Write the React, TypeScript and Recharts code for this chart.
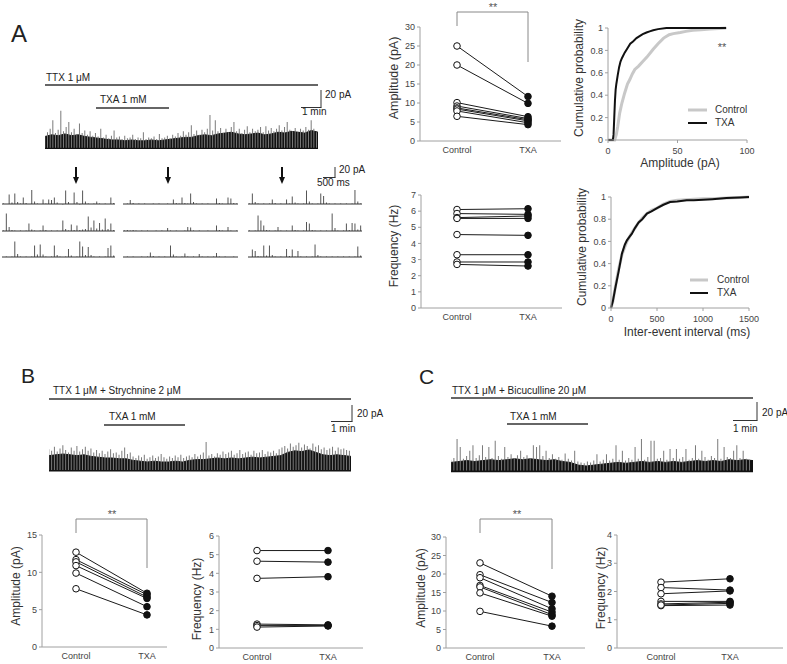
import React from 'react';
import { LineChart, Line, XAxis, YAxis, ComposedChart, Bar, Area, ReferenceLine } from 'recharts';

// ---------- categories ----------
const CATS = ['Control', 'TXA'];

// ---------- paired plots (one value per cell) ----------
const ampA_control = [25, 20, 10.1, 9.2, 8.7, 8.4, 7.9, 6.5];
const ampA_txa = [11.7, 9.9, 6.4, 5.9, 5.6, 5.3, 4.8, 4.3];
const freqA_control = [6.1, 5.85, 5.6, 5.55, 4.55, 3.3, 2.85, 2.7];
const freqA_txa = [6.15, 5.8, 5.7, 5.55, 4.5, 3.3, 2.85, 2.6];

const ampB_control = [12.7, 11.7, 11.4, 10.9, 9.9, 7.8];
const ampB_txa = [7.2, 7.0, 6.7, 6.5, 5.4, 4.3];
const freqB_control = [5.22, 4.65, 3.73, 1.28, 1.2, 1.12];
const freqB_txa = [5.22, 4.6, 3.82, 1.24, 1.2, 1.18];

const ampC_control = [23, 19.8, 19, 16.9, 16.5, 14.9, 9.9];
const ampC_txa = [14, 12.3, 10.6, 9.7, 9.0, 8.6, 5.9];
const freqC_control = [2.33, 2.14, 1.92, 1.65, 1.56, 1.5, 1.52];
const freqC_txa = [2.45, 2.05, 2.02, 1.65, 1.62, 1.52, 1.58];

const TICKS_30 = [0, 5, 10, 15, 20, 25, 30];
const TICKS_7 = [0, 1, 2, 3, 4, 5, 6, 7];
const TICKS_15 = [0, 5, 10, 15];
const TICKS_6 = [0, 1, 2, 3, 4, 5, 6];
const TICKS_4 = [0, 1, 2, 3, 4];

// ---------- cumulative distributions [x, probability] ----------
const ampCumControl = [[0, 0], [4.8, 0], [6, 0.05], [7, 0.12], [8.4, 0.24], [10, 0.33], [12, 0.42], [14, 0.5], [15.7, 0.54], [17.5, 0.59], [19.3, 0.63], [22, 0.66], [25, 0.7], [28, 0.74], [32.5, 0.81], [36, 0.86], [40, 0.91], [44, 0.94], [47, 0.95], [52, 0.96], [56, 0.97], [61, 0.98], [67, 0.985], [73.5, 0.99], [80, 0.995], [85, 1]];
const ampCumTxa = [[0, 0], [3.5, 0], [4, 0.05], [4.5, 0.2], [5, 0.35], [5.5, 0.45], [6, 0.5], [7, 0.58], [8, 0.65], [9, 0.7], [10, 0.73], [12, 0.78], [14, 0.82], [16, 0.86], [18, 0.88], [20.5, 0.91], [23, 0.93], [25, 0.945], [27.7, 0.96], [30, 0.97], [32.5, 0.98], [36, 0.99], [42, 1], [85, 1]];
const ieiCumControl = [[0, 0], [20, 0.06], [47, 0.19], [83, 0.35], [119, 0.48], [150, 0.55], [173, 0.6], [200, 0.64], [227, 0.68], [260, 0.72], [300, 0.77], [340, 0.81], [390, 0.85], [440, 0.88], [500, 0.9], [570, 0.935], [642, 0.96], [720, 0.97], [822, 0.975], [900, 0.98], [1002, 0.985], [1100, 0.985], [1255, 0.99], [1400, 0.995], [1500, 1]];
const ieiCumTxa = [[0, 0], [20, 0.06], [47, 0.18], [83, 0.33], [119, 0.49], [150, 0.57], [173, 0.61], [200, 0.64], [227, 0.67], [260, 0.72], [300, 0.77], [340, 0.8], [390, 0.85], [440, 0.87], [500, 0.9], [570, 0.93], [642, 0.955], [720, 0.96], [822, 0.97], [900, 0.97], [1002, 0.975], [1100, 0.98], [1255, 0.99], [1400, 0.995], [1500, 1]];
const CUM_Y_TICKS = [0, 0.2, 0.4, 0.6, 0.8, 1];
const AMP_X_TICKS = [0, 50, 100];
const IEI_X_TICKS = [0, 500, 1000, 1500];

// ---------- long recordings (pA); spikes every 8 s, noise band every 20 s ----------
const spikesA = [14, 18, 22, 32, 17, 21, 43, 19, 24, 30, 18, 22, 16, 28, 17, 20, 15, 19, 14, 17, 13, 22, 12, 15, 11, 14, 20, 12, 13, 10, 14, 11, 12, 15, 10, 12, 11, 18, 10, 12, 11, 13, 10, 16, 11, 12, 14, 11, 15, 13, 17, 14, 19, 15, 18, 26, 16, 20, 15, 21, 18, 22, 38, 20, 32, 19, 23, 17, 22, 18, 24, 30, 19, 22, 17, 21, 25, 18, 22, 19, 21, 24, 18, 25, 20, 23, 19, 22, 26, 20, 24, 30, 21, 19, 23, 18, 22, 20, 24, 21, 32, 22, 18];
const bandA = [13, 15, 14, 16, 14, 15, 13, 12, 11, 10, 9, 9, 8, 9, 8, 8, 9, 8, 9, 10, 11, 12, 12, 14, 15, 14, 16, 17, 18, 16, 15, 16, 17, 15, 16, 18, 17, 19, 18, 17, 20, 18];

const spikesB = [26, 24, 29, 23, 27, 31, 25, 22, 28, 24, 30, 23, 26, 29, 24, 27, 22, 25, 21, 24, 20, 23, 26, 21, 22, 19, 24, 28, 20, 22, 17, 15, 18, 16, 19, 14, 16, 18, 15, 17, 20, 16, 14, 17, 15, 18, 16, 19, 15, 17, 18, 16, 20, 17, 19, 22, 35, 18, 20, 17, 21, 19, 23, 20, 22, 24, 19, 21, 25, 20, 22, 23, 19, 24, 21, 22, 25, 20, 23, 22, 24, 21, 26, 28, 30, 27, 33, 29, 31, 34, 28, 32, 30, 27, 33, 29, 31, 26, 28, 25, 27, 29, 24, 28, 26, 27, 25, 24];
const bandB = [18, 19, 20, 19, 18, 19, 17, 16, 15, 15, 14, 14, 12, 11, 10, 11, 10, 10, 11, 10, 12, 13, 13, 14, 15, 14, 15, 14, 15, 16, 15, 16, 17, 18, 22, 24, 23, 25, 22, 19, 18, 19, 18, 17];

const spikesC = [12, 14, 35, 26, 13, 16, 22, 28, 14, 17, 28, 15, 26, 14, 33, 16, 13, 26, 15, 18, 14, 17, 22, 15, 17, 14, 28, 26, 28, 16, 22, 14, 18, 13, 15, 12, 19, 13, 11, 22, 10, 9, 8, 10, 9, 11, 18, 10, 12, 18, 11, 13, 28, 12, 22, 11, 14, 12, 26, 13, 35, 12, 15, 33, 33, 13, 14, 22, 12, 24, 14, 24, 13, 15, 24, 12, 14, 28, 13, 22, 15, 12, 16, 14, 35, 13, 26, 15, 14, 22, 28, 14, 22, 13, 12];
const bandC = [9, 10, 11, 10, 11, 12, 11, 12, 13, 12, 13, 12, 11, 12, 10, 9, 6, 5, 6, 7, 8, 9, 8, 9, 10, 9, 10, 9, 10, 9, 10, 11, 10, 11, 10, 12, 11, 12, 11];

// ---------- short sweeps (pA), 40 samples each ----------
const sweepR1C1 = [1, 0, 19, 3, 21, 4, 1, 13, 2, 0, 28, 5, 1, 0, 9, 1, 9, 8, 13, 3, 0, -1, 27, 4, 0, 23, 4, -1, 27, 5, 1, 0, 1, 5, 1, 0, 1, 0, 13, 2];
const sweepR2C1 = [1, 35, 8, 2, 1, 0, 1, 0, 1, 15, 3, 1, 0, 1, 11, 2, 0, 1, 0, 1, 0, 21, 4, 1, 13, 2, 11, 2, 3, 4, 29, 7, 21, 5, 16, 3, 25, 4, 15, 2];
const sweepR3C1 = [0, 1, 0, 1, 31, 6, 1, 0, 1, 0, 1, 23, 5, 25, 5, 1, 0, 1, 23, 4, 1, 0, 1, 16, 3, 0, 1, 31, 21, 4, 20, 4, 1, 0, 1, 0, 1, 18, 23, 3];
const sweepR1C2 = [0, 1, 8, 2, 0, 1, 0, 1, 0, 0, 1, 0, 1, 0, 0, 1, 0, 9, 2, 1, 13, 2, 1, 21, 4, 1, 0, 1, 0, 1, 0, 0, 11, 2, 1, 0, 13, 11, 2, 1];
const sweepR2C2 = [1, 2, 1, 2, 1, 0, 1, 0, 1, 0, 0, 1, 0, 1, 0, 6, 1, 0, 1, 0, 0, 1, 8, 7, 1, 0, 1, 0, 0, 1, 0, 0, 11, 2, 1, 0, 8, 1, 0, 1];
const sweepR3C2 = [0, 1, 0, 1, 0, 0, 1, 0, 1, 9, 2, 0, 1, 0, 1, 0, 23, 5, 1, 0, 1, 7, 1, 0, 1, 0, 6, 1, 0, 1, 0, 1, 8, 1, 0, 1, 0, 0, 1, 0];
const sweepR1C3 = [1, 21, 4, 1, 0, 1, 0, 1, 9, 2, 0, 1, 0, 9, 1, 15, 3, 1, 0, 1, 27, 5, 1, 0, 1, 21, 16, 3, 1, 0, 1, 0, 1, 0, 1, 0, 1, 28, 5, 1];
const sweepR2C3 = [1, 0, 1, 31, 21, 11, 2, 1, 0, 1, 8, 1, 0, 1, 0, 11, 2, 1, 0, 1, 18, 15, 2, 1, 0, 1, 0, 1, 0, 35, 6, 1, 0, 1, 15, 2, 16, 15, 3, 11];
const sweepR3C3 = [0, 15, 12, 2, 1, 23, 3, 23, 4, 1, 0, 1, 0, 16, 2, 15, 1, 12, 1, 0, 1, 0, 1, 25, 4, 1, 0, 1, 0, 1, 0, 1, 0, 1, 0, 1, 0, 1, 21, 3];

// ---------- styling ----------
const FONT = '"Liberation Sans", Arial, Helvetica, sans-serif';
const AXIS = '#a0a0a0';
const TICK = '#444';
const TXT = '#222';
const YW = 40, MT = 8;

type Geo = { ax: number; top: number; right: number; bottom: number };

function pairRows(control: number[], txa: number[]) {
  return CATS.map((cat, k) => {
    const row: any = { cat };
    (k === 0 ? control : txa).forEach((v, i) => { row['s' + i] = v; });
    return row;
  });
}

const renderDot = (p: any) => (
  <circle key={`${p.dataKey}-${p.index}`} cx={p.cx} cy={p.cy} r={3.3}
    fill={p.index === 0 ? '#fff' : '#111'} stroke="#111" strokeWidth={1} />
);

function PairPlot({ geo, control, txa, yMax, yTicks, padL, padR }: { geo: Geo; control: number[]; txa: number[]; yMax: number; yTicks: number[]; padL: number; padR: number }) {
  const data = pairRows(control, txa);
  const MR = 4, XH = 16;
  const w = YW + geo.right - geo.ax + MR;
  const h = MT + geo.bottom - geo.top + XH;
  return (
    <div style={{ position: 'absolute', left: geo.ax - YW, top: geo.top - MT }}>
      <LineChart width={w} height={h} data={data} margin={{ top: MT, right: MR, bottom: 0, left: 0 }}>
        <XAxis dataKey="cat" type="category" padding={{ left: padL, right: padR }} height={XH}
          axisLine={{ stroke: AXIS }} tickLine={false} tickSize={0} tickMargin={6} interval={0}
          tick={{ fontSize: 9, fill: TICK }} />
        <YAxis type="number" domain={[0, yMax]} ticks={yTicks} width={YW} interval={0}
          axisLine={{ stroke: AXIS }} tickLine={{ stroke: AXIS }} tickSize={3} tickMargin={2}
          tick={{ fontSize: 9, fill: TICK }} />
        {control.map((_, i) => (
          <Line key={i} dataKey={'s' + i} stroke="#1a1a1a" strokeWidth={1} isAnimationActive={false}
            dot={renderDot} activeDot={false} />
        ))}
      </LineChart>
    </div>
  );
}

function CumPlot({ geo, control, txa, xMax, xTicks }: { geo: Geo; control: number[][]; txa: number[][]; xMax: number; xTicks: number[] }) {
  const MR = 16, XH = 22;
  const w = YW + geo.right - geo.ax + MR;
  const h = MT + geo.bottom - geo.top + XH;
  const cData = control.map(([x, p]) => ({ x, p }));
  const tData = txa.map(([x, p]) => ({ x, p }));
  return (
    <div style={{ position: 'absolute', left: geo.ax - YW, top: geo.top - MT }}>
      <LineChart width={w} height={h} margin={{ top: MT, right: MR, bottom: 0, left: 0 }}>
        <XAxis type="number" dataKey="x" domain={[0, xMax]} ticks={xTicks} height={XH} interval={0}
          axisLine={{ stroke: AXIS }} tickLine={{ stroke: AXIS }} tickSize={3} tickMargin={5}
          tick={{ fontSize: 9, fill: TICK }} />
        <YAxis type="number" domain={[0, 1]} ticks={CUM_Y_TICKS} width={YW} interval={0}
          axisLine={{ stroke: AXIS }} tickLine={{ stroke: AXIS }} tickSize={3} tickMargin={2}
          tick={{ fontSize: 9, fill: TICK }} />
        <Line data={cData} dataKey="p" stroke="#c8c8c8" strokeWidth={3} dot={false} activeDot={false} isAnimationActive={false} />
        <Line data={tData} dataKey="p" stroke="#111" strokeWidth={2} dot={false} activeDot={false} isAnimationActive={false} />
      </LineChart>
    </div>
  );
}

function LongTrace({ left, top, width, height, tMax, spikes, band, baseValue }: { left: number; top: number; width: number; height: number; tMax: number; spikes: number[]; band: number[]; baseValue: number }) {
  const map = new Map<number, any>();
  spikes.forEach((v, i) => { const t = i * 8; map.set(t, { ...(map.get(t) || {}), t, spike: v }); });
  band.forEach((v, i) => { const t = i * 20; map.set(t, { ...(map.get(t) || {}), t, band: v }); });
  const rows = [...map.values()].sort((a, b) => a.t - b.t);
  return (
    <div style={{ position: 'absolute', left, top }}>
      <ComposedChart width={width} height={height} data={rows} margin={{ top: 0, right: 0, bottom: 0, left: 0 }}>
        <XAxis type="number" dataKey="t" domain={[0, tMax]} hide allowDataOverflow />
        <YAxis type="number" domain={[-5, 45]} hide allowDataOverflow />
        <Bar dataKey="spike" barSize={1} fill="#7a7a7a" isAnimationActive={false} />
        <Area dataKey="band" type="linear" baseValue={baseValue} connectNulls fill="#111" fillOpacity={1}
          stroke="#111" strokeWidth={1} dot={false} activeDot={false} isAnimationActive={false} />
      </ComposedChart>
    </div>
  );
}

function Sweep({ left, baseline, width, values }: { left: number; baseline: number; width: number; values: number[] }) {
  const data = values.map((v, i) => ({ i, v }));
  return (
    <div style={{ position: 'absolute', left, top: baseline - 20 }}>
      <ComposedChart width={width} height={23} data={data} margin={{ top: 0, right: 0, bottom: 0, left: 0 }}>
        <XAxis type="number" dataKey="i" domain={[-0.5, values.length - 0.5]} hide />
        <YAxis type="number" domain={[-6, 40]} hide allowDataOverflow />
        <ReferenceLine y={0} stroke="#333" strokeWidth={1} />
        <Bar dataKey="v" barSize={1} fill="#555" isAnimationActive={false} />
      </ComposedChart>
    </div>
  );
}

function VText({ x, y, children, size = 12 }: { x: number; y: number; children: React.ReactNode; size?: number }) {
  return (
    <text x={x} y={y} transform={`rotate(-90 ${x} ${y})`} textAnchor="middle" dominantBaseline="middle" fontSize={size} fill="#333">{children}</text>
  );
}

function Arrow({ x }: { x: number }) {
  return (
    <g>
      <rect x={x - 1} y={167} width={2} height={11} fill="#111" />
      <polygon points={`${x - 3},177 ${x + 3},177 ${x},184`} fill="#111" />
    </g>
  );
}

function Overlay() {
  const L = '#333';
  return (
    <svg width={787} height={664} style={{ position: 'absolute', left: 0, top: 0, pointerEvents: 'none' }}>
      {/* panel letters */}
      <text x={11} y={42} fontSize={24} fill={TXT}>A</text>
      <text x={21} y={383} fontSize={21} fill={TXT}>B</text>
      <text x={419} y={384} fontSize={21} fill={TXT}>C</text>

      {/* Panel A drug bars and scale */}
      <text x={46} y={81} fontSize={10} fill={TXT}>TTX 1 μM</text>
      <line x1={45} y1={85} x2={318} y2={85} stroke={L} strokeWidth={1.3} />
      <text x={100} y={103} fontSize={10} fill={TXT}>TXA 1 mM</text>
      <line x1={96} y1={108} x2={169} y2={108} stroke={L} strokeWidth={1.3} />
      <line x1={321} y1={90} x2={321} y2={107.5} stroke={L} strokeWidth={1} />
      <line x1={301} y1={107.5} x2={321.5} y2={107.5} stroke={L} strokeWidth={1} />
      <text x={325} y={98} fontSize={10} fill={TXT}>20 pA</text>
      <text x={302} y={115} fontSize={10} fill={TXT}>1 min</text>

      <Arrow x={76} />
      <Arrow x={168} />
      <Arrow x={282} />
      <line x1={335} y1={167} x2={335} y2={177.5} stroke={L} strokeWidth={1} />
      <line x1={323} y1={177.5} x2={335.5} y2={177.5} stroke={L} strokeWidth={1} />
      <text x={339} y={173} fontSize={10} fill={TXT}>20 pA</text>
      <text x={317} y={186} fontSize={10} fill={TXT}>500 ms</text>

      {/* Panel B */}
      <text x={53} y={394} fontSize={10} fill={TXT}>TTX 1 μM + Strychnine 2 μM</text>
      <line x1={49} y1={399} x2={351} y2={399} stroke={L} strokeWidth={1.3} />
      <text x={109} y={420} fontSize={10} fill={TXT}>TXA 1 mM</text>
      <line x1={104} y1={425} x2={185} y2={425} stroke={L} strokeWidth={1.3} />
      <line x1={352} y1={405} x2={352} y2={421.5} stroke={L} strokeWidth={1} />
      <line x1={331} y1={421.5} x2={352.5} y2={421.5} stroke={L} strokeWidth={1} />
      <text x={357} y={417} fontSize={10} fill={TXT}>20 pA</text>
      <text x={331} y={432} fontSize={10} fill={TXT}>1 min</text>

      {/* Panel C */}
      <text x={452} y={394} fontSize={10} fill={TXT}>TTX 1 μM + Bicuculline 20 μM</text>
      <line x1={451} y1={398} x2={753} y2={398} stroke={L} strokeWidth={1.3} />
      <text x={510} y={420} fontSize={10} fill={TXT}>TXA 1 mM</text>
      <line x1={507} y1={424} x2={588} y2={424} stroke={L} strokeWidth={1.3} />
      <line x1={757} y1={402} x2={757} y2={420.5} stroke={L} strokeWidth={1} />
      <line x1={733} y1={420.5} x2={757.5} y2={420.5} stroke={L} strokeWidth={1} />
      <text x={762} y={416} fontSize={10} fill={TXT}>20 pA</text>
      <text x={733} y={432} fontSize={10} fill={TXT}>1 min</text>

      {/* significance brackets */}
      <polyline points="457,26 457,12 528,12 528,62" fill="none" stroke="#888" strokeWidth={1} />
      <text x={493} y={11} fontSize={11} textAnchor="middle" fill="#555">**</text>
      <polyline points="76,533 76,519 147,519 147,568" fill="none" stroke="#888" strokeWidth={1} />
      <text x={112} y={518} fontSize={11} textAnchor="middle" fill="#555">**</text>
      <polyline points="480,533 480,519 552,519 552,569" fill="none" stroke="#888" strokeWidth={1} />
      <text x={517} y={518} fontSize={11} textAnchor="middle" fill="#555">**</text>
      <text x={722} y={51} fontSize={11} textAnchor="middle" fill="#555">**</text>

      {/* axis titles */}
      <VText x={395} y={78} size={12.5}>Amplitude (pA)</VText>
      <VText x={395} y={246} size={12}>Frequency (Hz)</VText>
      <VText x={580} y={78} size={12}>Cumulative probability</VText>
      <VText x={583} y={247} size={12}>Cumulative probability</VText>
      <text x={680} y={167} fontSize={12} textAnchor="middle" fill="#333">Amplitude (pA)</text>
      <text x={687} y={336} fontSize={12} textAnchor="middle" fill="#333">Inter-event interval (ms)</text>
      <VText x={17} y={586} size={12}>Amplitude (pA)</VText>
      <VText x={198} y={599} size={12}>Frequency (Hz)</VText>
      <VText x={422} y={588} size={12}>Amplitude (pA)</VText>
      <VText x={602} y={588} size={12}>Frequency (Hz)</VText>

      {/* legends */}
      <line x1={688} y1={110} x2={707} y2={110} stroke="#c8c8c8" strokeWidth={3} />
      <text x={715} y={110} fontSize={10} dominantBaseline="middle" fill="#333">Control</text>
      <line x1={688} y1={123} x2={707} y2={123} stroke="#111" strokeWidth={2} />
      <text x={715} y={123} fontSize={10} dominantBaseline="middle" fill="#333">TXA</text>
      <line x1={690} y1={280} x2={708} y2={280} stroke="#c8c8c8" strokeWidth={3} />
      <text x={717} y={280} fontSize={10} dominantBaseline="middle" fill="#333">Control</text>
      <line x1={690} y1={293} x2={708} y2={293} stroke="#111" strokeWidth={2} />
      <text x={717} y={293} fontSize={10} dominantBaseline="middle" fill="#333">TXA</text>
    </svg>
  );
}

export default function App() {
  return (
    <div style={{ position: 'absolute', left: 0, top: 0, width: 787, height: 664, overflow: 'hidden', background: '#fff', fontFamily: FONT }}>
      {/* long recordings */}
      <LongTrace left={45} top={109} width={273} height={43} tMax={820} spikes={spikesA} band={bandA} baseValue={-1.5} />
      <LongTrace left={49} top={434} width={302} height={40} tMax={860} spikes={spikesB} band={bandB} baseValue={-2} />
      <LongTrace left={451} top={430} width={302} height={45} tMax={760} spikes={spikesC} band={bandC} baseValue={-2} />

      {/* short sweeps */}
      <Sweep left={2} baseline={204} width={113} values={sweepR1C1} />
      <Sweep left={2} baseline={231} width={113} values={sweepR2C1} />
      <Sweep left={2} baseline={257} width={113} values={sweepR3C1} />
      <Sweep left={123} baseline={204} width={115} values={sweepR1C2} />
      <Sweep left={123} baseline={231} width={115} values={sweepR2C2} />
      <Sweep left={123} baseline={257} width={115} values={sweepR3C2} />
      <Sweep left={248} baseline={204} width={114} values={sweepR1C3} />
      <Sweep left={248} baseline={231} width={114} values={sweepR2C3} />
      <Sweep left={248} baseline={257} width={114} values={sweepR3C3} />

      {/* paired plots */}
      <PairPlot geo={{ ax: 420, top: 27, right: 561, bottom: 141 }} control={ampA_control} txa={ampA_txa} yMax={30} yTicks={TICKS_30} padL={37} padR={33} />
      <PairPlot geo={{ ax: 421, top: 195, right: 562, bottom: 308 }} control={freqA_control} txa={freqA_txa} yMax={7} yTicks={TICKS_7} padL={36} padR={34} />
      <PairPlot geo={{ ax: 42, top: 535, right: 167, bottom: 647 }} control={ampB_control} txa={ampB_txa} yMax={15} yTicks={TICKS_15} padL={34} padR={20} />
      <PairPlot geo={{ ax: 219, top: 536, right: 363, bottom: 648 }} control={freqB_control} txa={freqB_txa} yMax={6} yTicks={TICKS_6} padL={38} padR={35} />
      <PairPlot geo={{ ax: 446, top: 537, right: 585, bottom: 648 }} control={ampC_control} txa={ampC_txa} yMax={30} yTicks={TICKS_30} padL={34} padR={33} />
      <PairPlot geo={{ ax: 617, top: 535, right: 783, bottom: 648 }} control={freqC_control} txa={freqC_txa} yMax={4} yTicks={TICKS_4} padL={44} padR={53} />

      {/* cumulative plots */}
      <CumPlot geo={{ ax: 608, top: 28, right: 747, bottom: 140 }} control={ampCumControl} txa={ampCumTxa} xMax={100} xTicks={AMP_X_TICKS} />
      <CumPlot geo={{ ax: 611, top: 197, right: 749, bottom: 308 }} control={ieiCumControl} txa={ieiCumTxa} xMax={1500} xTicks={IEI_X_TICKS} />

      <Overlay />
    </div>
  );
}
